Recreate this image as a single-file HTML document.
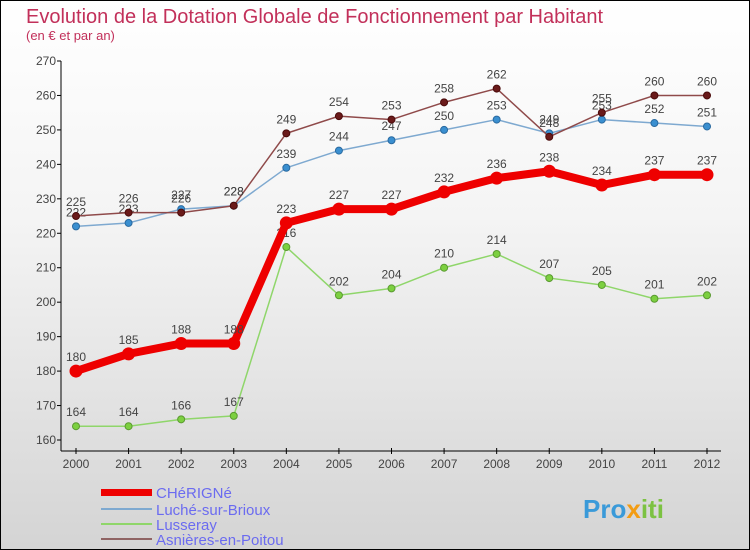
<!DOCTYPE html>
<html><head><meta charset="utf-8"><style>
body{margin:0}
#root{position:relative;width:748px;height:548px;border:1px solid #000;background:linear-gradient(#fff 0%,#f4f4f4 40%,#d4d4d4 100%);font-family:"Liberation Sans",sans-serif;overflow:hidden}
svg text{font-family:"Liberation Sans",sans-serif}
</style></head><body>
<div id="root">
<svg id="s" width="748" height="548" xmlns="http://www.w3.org/2000/svg">
<text x="25" y="22" font-size="20" fill="#c2305a">Evolution de la Dotation Globale de Fonctionnement par Habitant</text>
<text x="25" y="39" font-size="13" fill="#c2305a">(en € et par an)</text>
<g id="axes"></g><g id="series"></g>
<g>
<rect x="100" y="488" width="51" height="7" fill="#e00"/>
<text x="155" y="497" font-size="15" fill="#6b6bf0">CHéRIGNé</text>
<rect x="100" y="507" width="51" height="2" fill="#7ea9d0"/>
<text x="155" y="514" font-size="15" fill="#6b6bf0">Luché-sur-Brioux</text>
<rect x="100" y="522" width="51" height="2" fill="#8fd66a"/>
<text x="155" y="529" font-size="15" fill="#6b6bf0">Lusseray</text>
<rect x="100" y="537" width="51" height="2" fill="#8f6464"/>
<text x="155" y="544" font-size="15" fill="#6b6bf0">Asnières-en-Poitou</text>
</g>
<text x="582" y="517" font-size="26" font-weight="bold" fill="#3a9ad9">Pro<tspan fill="#f39c12">x</tspan><tspan fill="#7cc242">iti</tspan></text>
</svg>
</div>
<script>
const years=[2000,2001,2002,2003,2004,2005,2006,2007,2008,2009,2010,2011,2012];
const yTicks=[160,170,180,190,200,210,220,230,240,250,260,270];
const cherigne=[180,185,188,188,223,227,227,232,236,238,234,237,237];
const luche=[222,223,227,228,239,244,247,250,253,249,253,252,251];
const lusseray=[164,164,166,167,216,202,204,210,214,207,205,201,202];
const asnieres=[225,226,226,228,249,254,253,258,262,248,255,260,260];
const NS="http://www.w3.org/2000/svg";
const X=i=>75+i*(706-75)/(years.length-1);
const Y=v=>439-(v-160)*(439-60)/110;
const ax=document.getElementById('axes'),se=document.getElementById('series');
function mk(p,t,a){const e=document.createElementNS(NS,t);for(const k in a)e.setAttribute(k,a[k]);p.appendChild(e);return e;}
let yl=mk(ax,'line',{x1:60,y1:60,x2:60,y2:450,stroke:'#000'});


let xl=mk(ax,'line',{x1:60,y1:450,x2:720,y2:450,stroke:'#000'});


yTicks.forEach(v=>{mk(ax,'line',{x1:56,y1:Y(v),x2:60,y2:Y(v),stroke:'#000'});
const t=mk(ax,'text',{x:55,y:Y(v)+4,'font-size':12,fill:'#444','text-anchor':'end'});t.textContent=v;

});
years.forEach((y,i)=>{mk(ax,'line',{x1:X(i),y1:447,x2:X(i),y2:453,stroke:'#000'});
const t=mk(ax,'text',{x:X(i),y:467,'font-size':12,fill:'#444','text-anchor':'middle'});t.textContent=y;

});
function series(name,data,color,w,r,fill,stroke){
const g=mk(se,'g',{});


mk(g,'polyline',{points:data.map((v,i)=>X(i)+','+Y(v)).join(' '),fill:'none',stroke:color,'stroke-width':w,'stroke-linejoin':'round'});
data.forEach((v,i)=>{const c=mk(g,'circle',{cx:X(i),cy:Y(v),r:r,fill:fill,stroke:stroke,'stroke-width':1});


const t=mk(g,'text',{x:X(i),y:Y(v)-10,'font-size':12,fill:'#444','text-anchor':'middle'});t.textContent=v;

});}
series('lusseray',lusseray,'#8fd66a',1.5,3.5,'#7cd040','#5a9a30');
series('luche',luche,'#7ea9d0',1.5,3.5,'#3a8fd0','#2a6aa0');
series('asnieres',asnieres,'#8f4a4a',1.5,3.5,'#6a1a1a','#4a0a0a');
series('cherigne',cherigne,'#e00',8,6,'#e00','#e00');
</script>
</body></html>
